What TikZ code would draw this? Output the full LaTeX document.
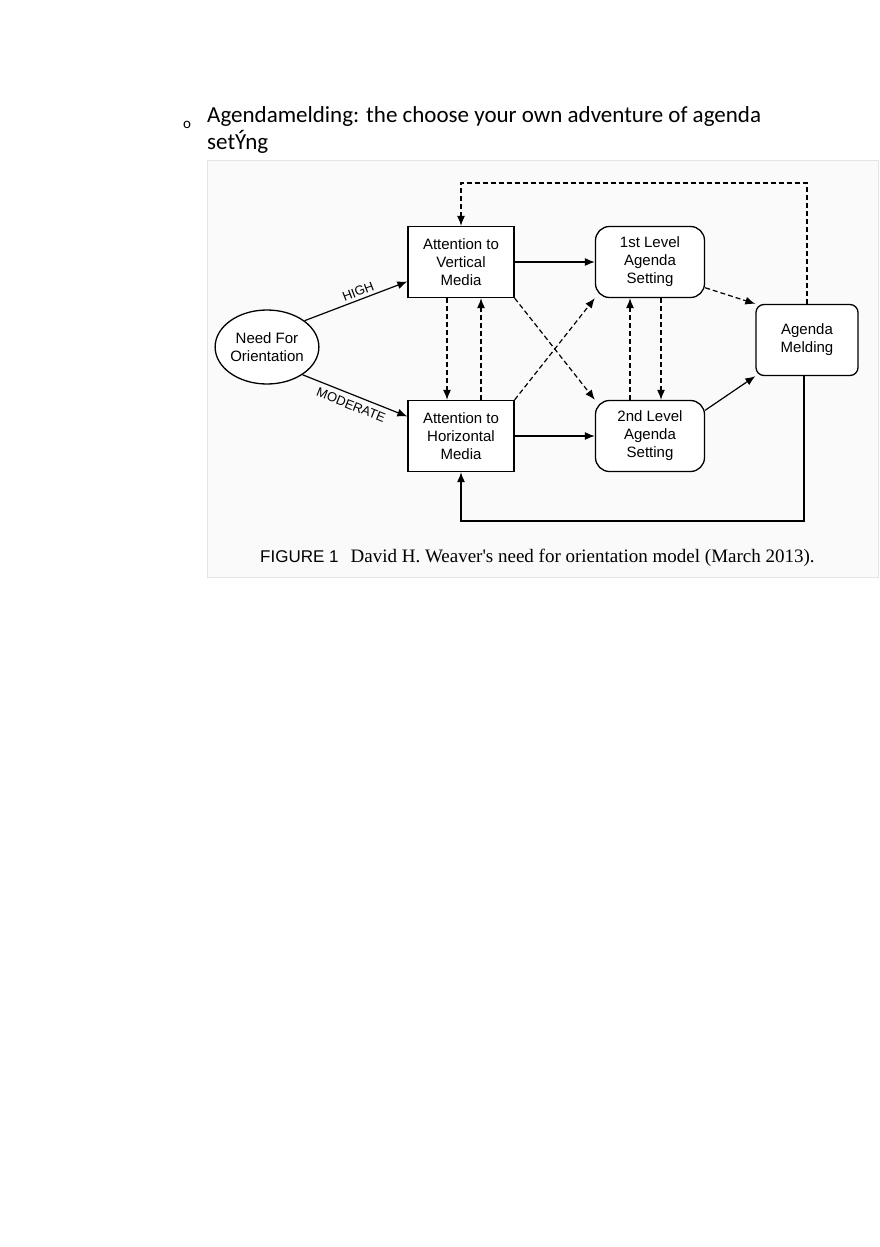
\documentclass[tikz,border=0pt]{standalone}
\usepackage{fontspec}
\setmainfont{Carlito}
\newfontfamily\figsans{Liberation Sans}
\newfontfamily\figserif{Liberation Serif}
\usetikzlibrary{shapes.geometric,arrows.meta}
\tikzset{
  fbox/.style={draw,line width=1.3pt,fill=white,minimum width=106pt,minimum height=71pt,align=center,font=\figsans\fontsize{15}{18}\selectfont},
  rbox/.style={fbox,rounded corners=14pt},
  link/.style={line width=1.2pt,-{Latex[length=10pt,width=8pt]}},
  dlink/.style={link,dash pattern=on 5pt off 3pt}
}
\begin{document}
\begin{tikzpicture}[x=1pt,y=-1pt]
        \useasboundingbox[fill=white] (0,0) rectangle (880,1247);
        \node[anchor=base] (bullet) at (187,128) {\fontsize{15}{16}\selectfont o};
        \node[anchor=north west,inner sep=0pt,align=left,font=\fontsize{23}{27}\selectfont] (head) at (207,106)
            {Agendamelding: the choose your own adventure of agenda\\setÝng};
        \draw[black!10,fill=black!2] (207,160) rectangle (878,577);
        \node[ellipse,draw,line width=1.3pt,fill=white,inner sep=0pt,minimum width=92pt,minimum height=74pt,align=center,
              font=\figsans\fontsize{15}{18}\selectfont] (nfo) at (267,347) {Need For\\Orientation};
        \node[fbox] (vert) at (461,262) {Attention to\\Vertical\\Media};
        \node[fbox] (horz) at (461,436) {Attention to\\Horizontal\\Media};
        \node[rbox,minimum width=109pt] (first) at (650,262) {1st Level\\Agenda\\Setting};
        \node[rbox,minimum width=109pt] (second) at (650,436) {2nd Level\\Agenda\\Setting};
        \node[fbox,rounded corners=8pt,minimum width=102pt] (meld) at (807,340) {Agenda\\Melding};
        % media to levels
        \draw[link] (vert) -- (first);
        \draw[link] (horz) -- (second);
        \draw[link] (nfo.35) -- (vert.200) node[pos=0.55,above,sloped,inner sep=3pt,font=\figsans\fontsize{13}{14}\selectfont] {HIGH};
        \draw[link] (nfo.-38) -- (horz.160) node[pos=0.5,below,sloped,inner sep=5pt,font=\figsans\fontsize{13}{14}\selectfont] {MODERATE};
        \draw[dlink] (vert.south -| 447,0) -- (horz.north -| 447,0);
        \draw[dlink] (horz.north -| 481,0) -- (vert.south -| 481,0);
        \draw[dlink] (vert.south east) -- (second.north west);
        \draw[dlink] (horz.north east) -- (first.south west);
        \draw[dlink] (second.north -| 630,0) -- (first.south -| 630,0);
        \draw[dlink] (first.south -| 661,0) -- (second.north -| 661,0);
        \draw[dlink] (first.-25) -- (meld.north west);
        \draw[link] (second.25) -- (meld.south west);
        % feedback loops
        \draw[dlink] (meld.north) -- (807,183) -- (461,183) -- (vert.north);
        \draw[link] (meld.south -| 804,0) -- (804,521) -- (461,521) -- (horz.south);
        \node[anchor=base west,inner sep=0pt] (caption) at (260,562)
            {\figsans\fontsize{17}{19}\selectfont FIGURE 1\hspace{12pt}\figserif\fontsize{19}{21}\selectfont David H. Weaver's need for orientation model (March 2013).};
    \end{tikzpicture}
\end{document}
